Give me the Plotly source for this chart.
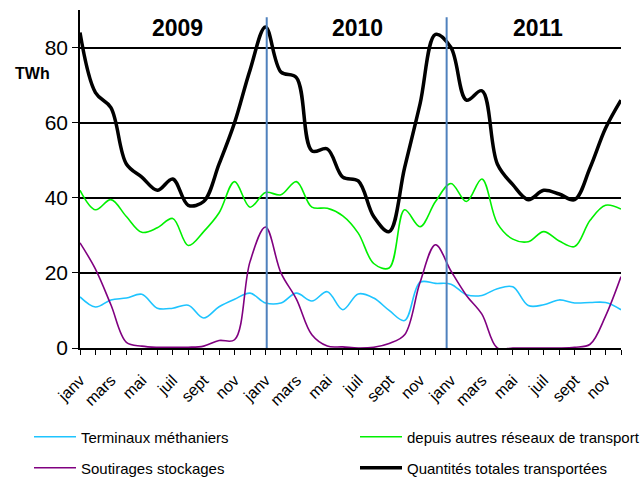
import plotly.graph_objects as go

# ---- data -------------------------------------------------------------
months = ["janv", "févr", "mars", "avr", "mai", "juin",
          "juil", "août", "sept", "oct", "nov", "déc"]
years = ["2009", "2010", "2011"]
x_idx = list(range(len(months) * len(years)))
x_labels = [m if i % 2 == 0 else "" for _ in years for i, m in enumerate(months)]

terminaux = [13.6, 10.9, 12.8, 13.3, 14.3, 10.6, 10.6, 11.4, 8.0, 11.0, 13.0, 14.6,
             12.0, 12.0, 14.6, 12.5, 15.0, 10.2, 14.4, 13.3, 10.0, 7.3, 17.5, 17.2,
             17.0, 14.2, 14.0, 15.8, 16.3, 11.3, 11.5, 12.8, 12.0, 12.1, 12.1, 10.2]
autres_reseaux = [42.0, 36.8, 39.5, 35.0, 30.8, 32.0, 34.5, 27.3, 31.0, 36.0, 44.3, 37.5,
                  41.4, 40.8, 44.3, 37.5, 37.2, 35.2, 30.6, 22.5, 21.3, 36.8, 32.3, 39.0,
                  43.8, 39.0, 45.0, 33.2, 29.0, 28.3, 31.0, 28.5, 27.0, 34.0, 38.0, 37.0]
soutirages = [28.0, 21.0, 11.5, 1.5, 0.5, 0.2, 0.2, 0.2, 0.5, 2.0, 2.2, 23.0,
              32.2, 20.0, 13.0, 3.5, 0.5, 0.3, 0.0, 0.2, 1.2, 3.5, 17.5, 27.5,
              20.5, 14.0, 9.0, 0.0, 0.0, 0.0, 0.0, 0.0, 0.2, 1.0, 8.5, 19.0]
total = [84.0, 68.0, 64.0, 49.0, 45.5, 42.0, 45.0, 38.0, 39.0, 49.0, 60.0, 74.0,
         85.5, 73.5, 72.0, 52.5, 53.0, 45.5, 44.5, 35.0, 31.0, 48.0, 65.0, 83.5,
         80.0, 66.0, 68.5, 49.0, 43.5, 39.5, 42.0, 41.0, 39.5, 48.0, 58.5, 66.0]

y_ticks = [0, 20, 40, 60, 80]
year_separators = [12.08, 23.72]
year_label_x = [6.3, 17.95, 29.6]

FONT = "Liberation Sans, Arial, sans-serif"

# plot area in pixels
L, R, T, B = 80, 19, 10, 129
W, H = 640, 477
PW, PH = W - L - R, H - T - B


def px_x(px):
    return (px - L) / PW


def px_y(py):
    return (H - B - py) / PH


fig = go.Figure()
series = [
    ("Terminaux méthaniers", terminaux, "#1EC4FF", 1.6, "legend"),
    ("depuis autres réseaux de transport", autres_reseaux, "#00F000", 1.6, "legend2"),
    ("Soutirages stockages", soutirages, "#800080", 1.6, "legend3"),
    ("Quantités totales transportées", total, "#000000", 3.5, "legend4"),
]
for name, vals, col, wd, lg in series:
    fig.add_trace(go.Scatter(x=x_idx, y=vals, name=name, mode="lines",
                             line=dict(color=col, width=wd, shape="spline", smoothing=1),
                             legend=lg))

for xs in year_separators:
    fig.add_shape(type="line", xref="x", yref="y", x0=xs, x1=xs, y0=0, y1=88.1,
                  line=dict(color="#4F81BD", width=2))

for xl, yr in zip(year_label_x, years):
    fig.add_annotation(x=xl, y=85.1, xref="x", yref="y", text="<b>%s</b>" % yr,
                       showarrow=False, font=dict(family=FONT, size=23, color="#000000"))

fig.add_annotation(x=px_x(32.5), y=px_y(74), xref="paper", yref="paper", text="<b>TWh</b>",
                   xanchor="center", yanchor="middle",
                   showarrow=False, font=dict(family=FONT, size=16, color="#000000"))


def leg(xp, yp):
    return dict(orientation="h", xanchor="left", yanchor="middle",
                x=px_x(xp), y=px_y(yp), itemwidth=42,
                font=dict(family=FONT, size=15, color="#000000"),
                bgcolor="rgba(0,0,0,0)", borderwidth=0)


fig.update_layout(
    width=W, height=H,
    margin=dict(l=L, r=R, t=T, b=B, autoexpand=False),
    paper_bgcolor="white", plot_bgcolor="white",
    font=dict(family=FONT, color="#000000"),
    showlegend=True,
    legend=leg(29, 437),
    legend2=leg(355, 437),
    legend3=leg(29, 468),
    legend4=leg(355, 468),
    xaxis=dict(range=[0, 35], tickmode="array", tickvals=x_idx, ticktext=x_labels,
               tickangle=-45, ticks="outside", ticklen=5, tickcolor="#000000", tickwidth=1,
               showline=True, linecolor="#000000", linewidth=1.5, showgrid=False,
               zeroline=False, ticklabelstandoff=10,
               tickfont=dict(family=FONT, size=16, color="#000000")),
    yaxis=dict(range=[0, 90], tickmode="array", tickvals=y_ticks,
               ticks="outside", ticklen=6, tickcolor="#000000", tickwidth=1,
               showline=True, linecolor="#000000", linewidth=1.5,
               showgrid=True, gridcolor="#000000", gridwidth=1.5, zeroline=False,
               tickfont=dict(family=FONT, size=21, color="#000000")),
)

fig.write_html("out.html", config={"displayModeBar": False},
               post_script="document.body.style.margin='0';")
